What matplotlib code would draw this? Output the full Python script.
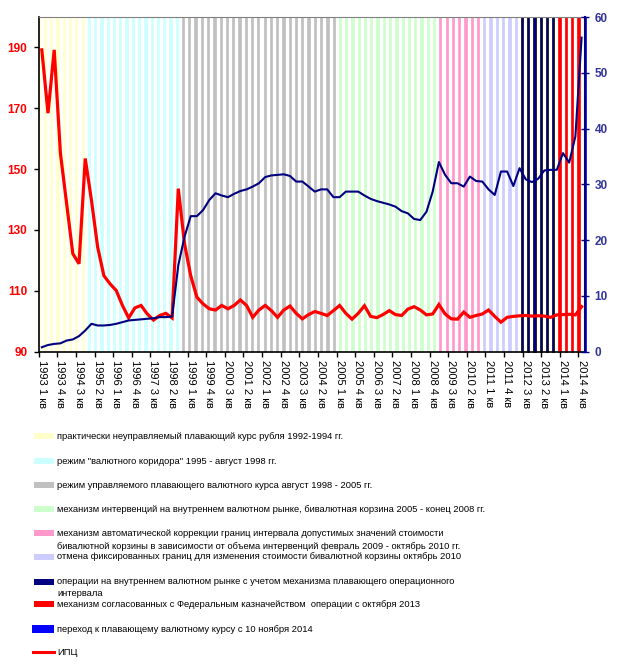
import numpy as np
import matplotlib
matplotlib.use('Agg')
import matplotlib.pyplot as plt
from matplotlib.patches import Rectangle
from matplotlib.lines import Line2D

plt.rcParams['font.family'] = ['Liberation Sans', 'DejaVu Sans']

# quarters 1993 Q1 .. 2014 Q4
quarters = [f"{y} {q} кв" for y in range(1993, 2015) for q in range(1, 5)]

# ИПЦ (left axis)
cpi = [189.2, 168.4, 189.2, 155.2, 138.7, 122.2, 118.9, 153.5, 139.8, 124.4,
       115.0, 112.3, 110.1, 105.2, 101.1, 104.4, 105.2, 102.4, 100.4, 101.9,
       102.6, 101.1, 143.6, 125.5, 115.0, 107.9, 105.7, 104.1, 103.7, 105.2,
       104.1, 105.2, 107.0, 105.2, 101.3, 103.7, 105.2, 103.5, 101.3, 103.7,
       105.0, 102.6, 100.8, 102.2, 103.2, 102.6, 101.9, 103.5, 105.2, 102.6,
       100.7, 102.6, 105.1, 101.6, 101.2, 102.2, 103.5, 102.2, 101.9, 104.0,
       104.8, 103.7, 102.1, 102.4, 105.5, 102.4, 100.8, 100.7, 103.0, 101.3,
       101.9, 102.4, 103.7, 101.6, 99.7, 101.3, 101.6, 101.8, 101.9, 101.7,
       101.8, 101.7, 101.3, 102.1, 102.2, 102.3, 102.1, 104.8]

# курс рубля к доллару (right axis)
usd_rub = [0.8, 1.2, 1.4, 1.5, 2.0, 2.2, 2.8, 3.8, 5.0, 4.7,
           4.7, 4.8, 5.0, 5.3, 5.6, 5.7, 5.8, 5.9, 6.0, 6.2,
           6.2, 6.3, 15.5, 20.6, 24.3, 24.3, 25.4, 27.2, 28.4, 28.0,
           27.7, 28.3, 28.8, 29.1, 29.6, 30.2, 31.3, 31.6, 31.7, 31.8,
           31.5, 30.5, 30.5, 29.6, 28.7, 29.1, 29.1, 27.7, 27.7, 28.7,
           28.7, 28.7, 28.0, 27.4, 27.0, 26.7, 26.4, 26.0, 25.2, 24.8,
           23.8, 23.6, 25.1, 28.7, 34.0, 31.7, 30.2, 30.2, 29.6, 31.4,
           30.6, 30.5, 29.1, 28.1, 32.3, 32.3, 29.7, 32.9, 30.9, 30.4,
           31.0, 32.5, 32.6, 32.6, 35.6, 33.9, 38.6, 56.3]

regime_names = [
    ['практически неуправляемый плавающий курс рубля 1992-1994 гг.'],
    ['режим "валютного коридора" 1995 - август 1998 гг.'],
    ['режим управляемого плавающего валютного курса август 1998 - 2005 гг.'],
    ['механизм интервенций на внутреннем валютном рынке, бивалютная корзина 2005 - конец 2008 гг.'],
    ['механизм автоматической коррекции границ интервала допустимых значений стоимости',
     'бивалютной корзины в зависимости от объема интервенций февраль 2009 - октябрь 2010 гг.'],
    ['отмена фиксированных границ для изменения стоимости бивалютной корзины октябрь 2010'],
    ['операции на внутреннем валютном рынке с учетом механизма плавающего операционного',
     'интервала'],
    ['механизм согласованных с Федеральным казначейством  операции с октября 2013'],
    ['переход к плавающему валютному курсу с 10 ноября 2014'],
]
regime_colors = ['#FFFFCC', '#CCFFFF', '#C0C0C0', '#CCFFCC', '#FF99CC',
                 '#CCCCFF', '#000080', '#FF0000', '#0000FF']
regime_quarters = [8, 15, 25, 16, 7, 6, 6, 4, 1]

W, H = 623, 670
fig = plt.figure(figsize=(W / 100, H / 100), dpi=100)
rect = [38.7 / W, 1 - 351.7 / H, 546 / W, 334.7 / H]

# regime bars (separate category axis, bars on tick marks)
bar_ax = fig.add_axes(rect)
bar_colors = [c for c, n in zip(regime_colors, regime_quarters) for _ in range(n)]
edge_colors = ['black' if c == '#000080' else c for c in bar_colors]
bar_ax.bar(np.arange(len(bar_colors)), 1, width=0.36, color=bar_colors,
           edgecolor=edge_colors, linewidth=0.5, clip_on=False)
bar_ax.set_xlim(0, len(bar_colors) - 1)
bar_ax.set_ylim(0, 1)
bar_ax.axis('off')

x = np.arange(len(quarters)) + 0.5

ax = fig.add_axes(rect)
ax.set_facecolor('none')
ax.plot(x, cpi, color='#FF0000', lw=2.3, solid_joinstyle='miter')
ax.set_xlim(0, len(quarters))
ax.set_ylim(90, 200)
ax.set_yticks(range(90, 191, 20))
ax.tick_params(axis='y', colors='black', labelcolor='#FF0000', length=3.6, width=1, pad=4.5)
for t in ax.get_yticklabels():
    t.set_fontweight('bold')
    t.set_fontsize(8.5)

ax.set_xticks(np.arange(0, len(quarters), 3))
ax.set_xticklabels([])
ax.set_xticks(np.arange(0, len(quarters), 3) + 0.5, minor=True)
ax.set_xticklabels(quarters[::3], minor=True, rotation=-90, fontsize=8)
ax.tick_params(axis='x', which='major', length=3.5, width=1, direction='out')
ax.tick_params(axis='x', which='minor', length=0, pad=6)

ax.spines['top'].set_color('#808080')
ax.spines['top'].set_linestyle((0, (3, 1)))
ax.spines['right'].set_visible(False)
ax.spines['left'].set_linewidth(1.2)
ax.spines['bottom'].set_linewidth(1.2)

ax2 = ax.twinx()
ax2.plot(x, usd_rub, color='#000080', lw=1.5)
ax2.set_ylim(0, 60)
ax2.set_yticks(range(0, 61, 10))
ax2.tick_params(axis='y', colors='#000080', labelcolor='#333399', direction='inout',
                length=6, width=1, pad=4)
for t in ax2.get_yticklabels():
    t.set_fontweight('bold')
    t.set_fontsize(8.5)
for s in ['top', 'left', 'bottom']:
    ax2.spines[s].set_visible(False)
ax2.spines['right'].set_color('#000080')
ax2.spines['right'].set_linewidth(1.5)

# legend drawn by hand
row_y = [[436.3], [461.0], [485.0], [509.0], [533.3, 546.7], [556.7],
         [581.7, 593.3], [604.3], [629.0]]
for names, col, ys in zip(regime_names, regime_colors, row_y):
    h = 8 if col == '#0000FF' else 6
    x0 = 32.3 if col == '#0000FF' else 34.3
    fig.add_artist(Rectangle((x0 / W, 1 - (ys[0] + h / 2) / H), (54 - x0) / W, h / H,
                             transform=fig.transFigure, facecolor=col, edgecolor='none'))
    for s, yy in zip(names, ys):
        fig.text(57 / W, 1 - yy / H, s, va='center', ha='left', fontsize=6.75)

fig.add_artist(Line2D([33 / W, 54 / W], [1 - 652.3 / H] * 2, transform=fig.transFigure,
                      color='#FF0000', lw=2.2))
fig.text(57 / W, 1 - 652.3 / H, 'ИПЦ', va='center', ha='left', fontsize=6.75)

fig.savefig('out.png', dpi=100)
